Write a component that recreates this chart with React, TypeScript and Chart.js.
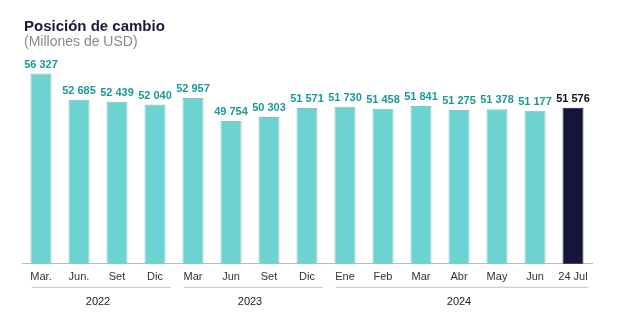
import React, { useEffect, useRef } from "react";
import { Chart, registerables } from "chart.js";

Chart.register(...registerables);

const categories = ["Mar.", "Jun.", "Set", "Dic", "Mar", "Jun", "Set", "Dic", "Ene", "Feb", "Mar", "Abr", "May", "Jun", "24 Jul"];
const values = [56327, 52685, 52439, 52040, 52957, 49754, 50303, 51571, 51730, 51458, 51841, 51275, 51378, 51177, 51576];
const yearLabels = ["2022", "2023", "2024"];
const yearStart = [0, 4, 8];
const yearEnd = [3, 7, 14];
const title = "Posición de cambio";
const subtitle = "(Millones de USD)";

const FONT = "'Liberation Sans', Arial, sans-serif";
const TEAL = "#6dd3d1";
const NAVY = "#15143f";

const fmt = (v: number) => {
  const s = String(v);
  return s.replace(/\B(?=(\d{3})+(?!\d))/g, " ");
};

const overlayPlugin = {
  id: "overlay",
  afterDatasetsDraw(chart: any) {
    const ctx = chart.ctx;
    const meta = chart.getDatasetMeta(0);
    ctx.save();
    ctx.font = `bold 11px ${FONT}`;
    ctx.textAlign = "center";
    ctx.textBaseline = "alphabetic";
    meta.data.forEach((bar: any, i: number) => {
      ctx.fillStyle = i === values.length - 1 ? "#111111" : "#1a9a96";
      ctx.fillText(fmt(values[i]), bar.x, bar.y - 6);
    });
    ctx.restore();
  },
  afterDraw(chart: any) {
    const ctx = chart.ctx;
    const xs = chart.scales.x;
    const area = chart.chartArea;
    ctx.save();
    // titles
    ctx.textAlign = "left";
    ctx.textBaseline = "alphabetic";
    ctx.fillStyle = "#1b1a3d";
    ctx.font = `bold 15px ${FONT}`;
    ctx.fillText(title, 24, 31);
    ctx.fillStyle = "#8a8a8a";
    ctx.font = `14px ${FONT}`;
    ctx.fillText(subtitle, 24, 46);
    // year groups
    const step = xs.getPixelForValue(1) - xs.getPixelForValue(0);
    yearLabels.forEach((lab, g) => {
      const c0 = xs.getPixelForValue(yearStart[g]);
      const c1 = xs.getPixelForValue(yearEnd[g]);
      const x0 = c0 - step * 0.25;
      const x1 = Math.min(c1 + step * 0.41, area.right);
      ctx.strokeStyle = "#c4c4c4";
      ctx.lineWidth = 1;
      ctx.beginPath();
      ctx.moveTo(x0, area.bottom + 23.5);
      ctx.lineTo(x1, area.bottom + 23.5);
      ctx.stroke();
      ctx.fillStyle = "#222222";
      ctx.font = `11px ${FONT}`;
      ctx.textAlign = "center";
      ctx.fillText(lab, (c0 + c1) / 2, area.bottom + 41);
    });
    ctx.restore();
  },
};

export default function App() {
  const ref = useRef<HTMLCanvasElement | null>(null);
  useEffect(() => {
    if (!ref.current) return;
    const chart = new Chart(ref.current, {
      type: "bar",
      data: {
        labels: categories,
        datasets: [
          {
            data: values,
            backgroundColor: values.map((_, i) => (i === values.length - 1 ? NAVY : TEAL)),
            borderColor: values.map((_, i) => (i === values.length - 1 ? NAVY : "#8fbdbd")),
            borderWidth: 1,
            barPercentage: 0.55,
            categoryPercentage: 1,
          },
        ],
      },
      options: {
        responsive: false,
        maintainAspectRatio: false,
        animation: false,
        layout: { padding: { left: 22, right: 28, top: 60, bottom: 31 } },
        plugins: { legend: { display: false }, tooltip: { enabled: false }, title: { display: false } },
        scales: {
          y: { display: false, min: 30000, max: 58200 },
          x: {
            grid: { display: false, drawTicks: false },
            border: { display: true, color: "#bdbdbd", width: 1 },
            ticks: { color: "#333333", font: { family: FONT, size: 11 }, padding: 7, maxRotation: 0, autoSkip: false },
          },
        },
      },
      plugins: [overlayPlugin],
    });
    return () => chart.destroy();
  }, []);
  return (
    <div style={{ position: "absolute", left: 0, top: 0, width: 620, height: 322, background: "#fff" }}>
      <canvas ref={ref} width={620} height={322} />
    </div>
  );
}
